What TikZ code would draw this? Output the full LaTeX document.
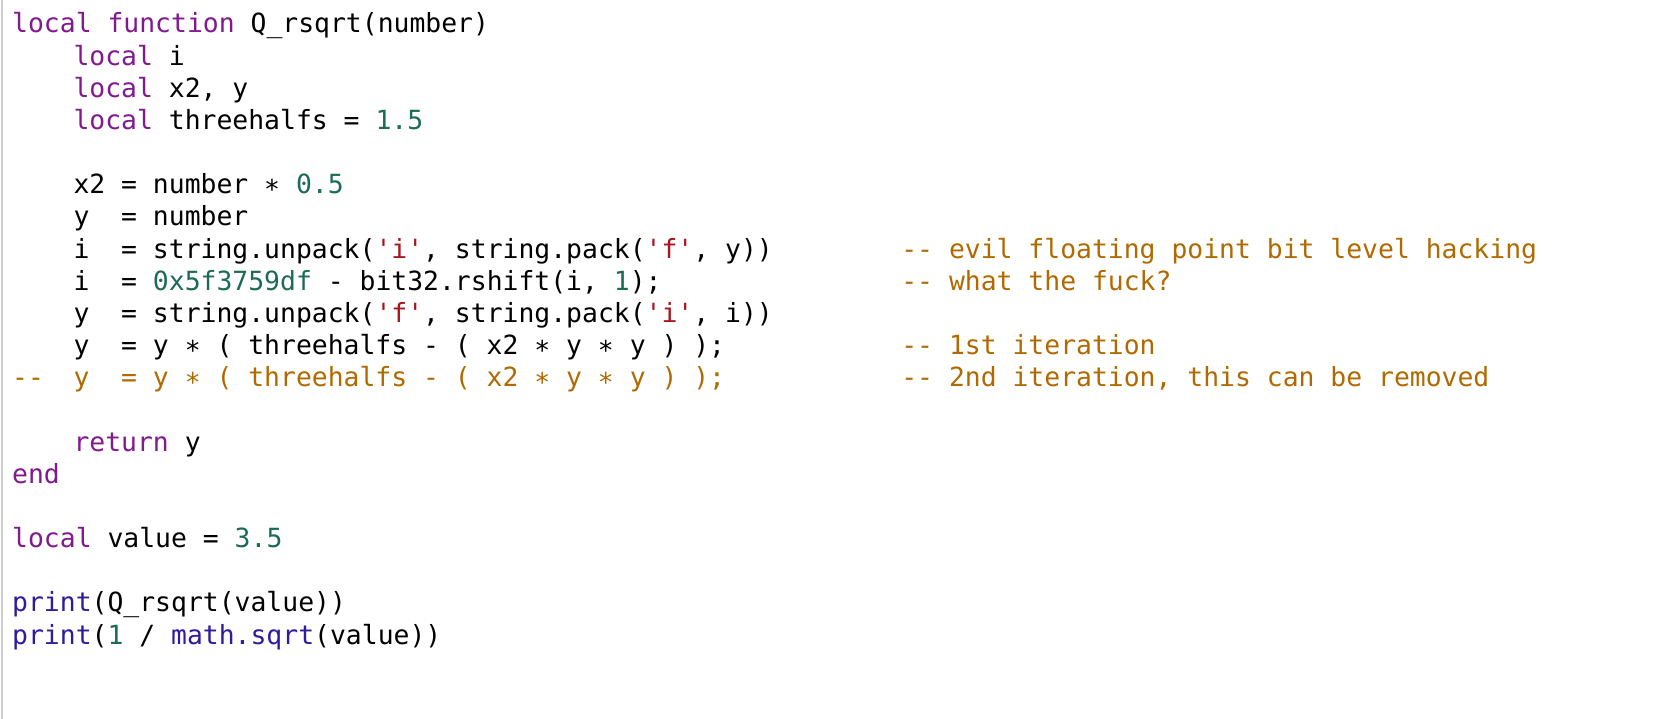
\documentclass[tikz,border=0pt]{standalone}
\usepackage{fontspec}
\newfontfamily\code{DejaVu Sans Mono}
\definecolor{kw}{HTML}{82198F}
\definecolor{nm}{HTML}{1C6B57}
\definecolor{st}{HTML}{A8161C}
\definecolor{bl}{HTML}{2E1C9C}
\definecolor{cm}{HTML}{B06A00}
\newcommand\kw[1]{\textcolor{kw}{#1}}
\newcommand\nm[1]{\textcolor{nm}{#1}}
\newcommand\st[1]{\textcolor{st}{#1}}
\newcommand\bl[1]{\textcolor{bl}{#1}}
\begin{document}
\begin{tikzpicture}[x=1pt,y=1pt,
  ln/.style={anchor=base west,inner sep=0pt,font=\code\fontsize{26.4}{30}\selectfont},
  cmt/.style={ln,text=cm}]
\useasboundingbox (0,0) rectangle (1656,-719);
\fill[white] (0,0) rectangle (1656,-719);
\draw[black!20,line width=2] (2,0) -- (2,-719);
\def\cx#1{12+15.33*#1}
\def\by#1{-(33+32.16*(#1-1))}
\node[ln] (l1) at ({\cx{0}},{\by{1}}) {\kw{local} \kw{function} Q\_rsqrt(number)};
\node[ln] (l2) at ({\cx{4}},{\by{2}}) {\kw{local} i};
\node[ln] (l3) at ({\cx{4}},{\by{3}}) {\kw{local} x2, y};
\node[ln] (l4) at ({\cx{4}},{\by{4}}) {\kw{local} threehalfs = \nm{1.5}};
\node[ln] (l6) at ({\cx{4}},{\by{6}}) {x2 = number ∗ \nm{0.5}};
\node[ln] (l7) at ({\cx{4}},{\by{7}}) {y\ \ = number};
\node[ln] (l8) at ({\cx{4}},{\by{8}}) {i\ \ = string.unpack(\st{'i'}, string.pack(\st{'f'}, y))};
\node[cmt] (c8) at ({\cx{58}},{\by{8}}) {-{}- evil floating point bit level hacking};
\node[ln] (l9) at ({\cx{4}},{\by{9}}) {i\ \ = \nm{0x5f3759df} - bit32.rshift(i, \nm{1});};
\node[cmt] (c9) at ({\cx{58}},{\by{9}}) {-{}- what the fuck?};
\node[ln] (l10) at ({\cx{4}},{\by{10}}) {y\ \ = string.unpack(\st{'f'}, string.pack(\st{'i'}, i))};
\node[ln] (l11) at ({\cx{4}},{\by{11}}) {y\ \ = y ∗ ( threehalfs - ( x2 ∗ y ∗ y ) );};
\node[cmt] (c11) at ({\cx{58}},{\by{11}}) {-{}- 1st iteration};
\node[cmt] (d12) at ({\cx{0}},{\by{12}}) {-{}-};
\node[cmt] (l12) at ({\cx{4}},{\by{12}}) {y\ \ = y ∗ ( threehalfs - ( x2 ∗ y ∗ y ) );};
\node[cmt] (c12) at ({\cx{58}},{\by{12}}) {-{}- 2nd iteration, this can be removed};
\node[ln] (l14) at ({\cx{4}},{\by{14}}) {\kw{return} y};
\node[ln] (l15) at ({\cx{0}},{\by{15}}) {\kw{end}};
\node[ln] (l17) at ({\cx{0}},{\by{17}}) {\kw{local} value = \nm{3.5}};
\node[ln] (l19) at ({\cx{0}},{\by{19}}) {\bl{print}(Q\_rsqrt(value))};
\node[ln] (l20) at ({\cx{0}},{\by{20}}) {\bl{print}(\nm{1} / \bl{math.sqrt}(value))};
\end{tikzpicture}
\end{document}
